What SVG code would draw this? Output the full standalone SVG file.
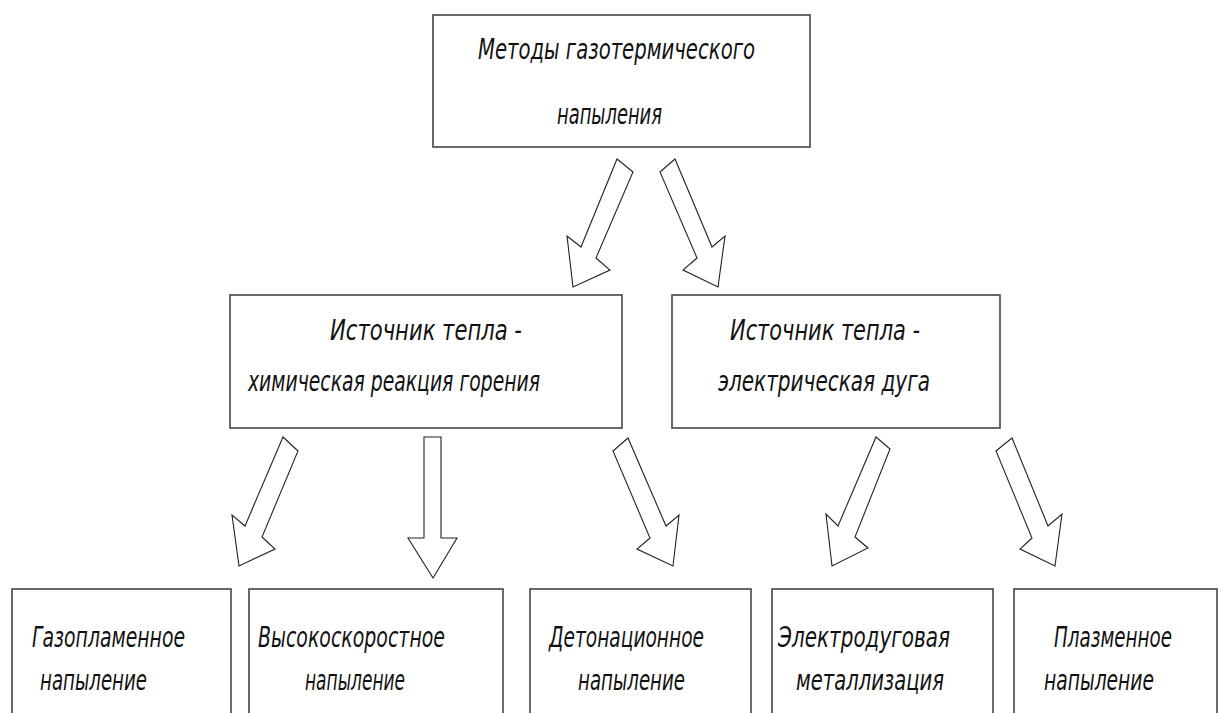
<svg xmlns="http://www.w3.org/2000/svg" width="1219" height="713" viewBox="0 0 1219 713">
<style>
.box{fill:#fff;stroke:#444;stroke-width:1.6}
.arr{fill:#fff;stroke:#222;stroke-width:1.1;stroke-linejoin:miter}
text{font-family:"DejaVu Sans","Liberation Sans",sans-serif;font-style:italic;font-size:29px;fill:#111}
</style>
<rect width="1219" height="713" fill="#fff"/>
<g id="n-root">
<rect class="box" x="433" y="15" width="377" height="132"/>
<text x="478" y="59" textLength="277" lengthAdjust="spacingAndGlyphs">Методы газотермического</text>
<text x="557" y="124" textLength="105" lengthAdjust="spacingAndGlyphs">напыления</text>
</g>
<g id="n-chem">
<rect class="box" x="230" y="295" width="392" height="133"/>
<text x="330" y="340" textLength="192" lengthAdjust="spacingAndGlyphs">Источник тепла -</text>
<text x="248" y="391" textLength="292" lengthAdjust="spacingAndGlyphs">химическая реакция горения</text>
</g>
<g id="n-arc">
<rect class="box" x="672" y="295" width="328" height="133"/>
<text x="730" y="340" textLength="190" lengthAdjust="spacingAndGlyphs">Источник тепла -</text>
<text x="718" y="391" textLength="212" lengthAdjust="spacingAndGlyphs">электрическая дуга</text>
</g>
<g id="n-gas">
<rect class="box" x="12" y="589" width="219" height="140"/>
<text x="32" y="647" textLength="153" lengthAdjust="spacingAndGlyphs">Газопламенное</text>
<text x="40" y="690" textLength="107" lengthAdjust="spacingAndGlyphs">напыление</text>
</g>
<g id="n-hvof">
<rect class="box" x="249" y="589" width="254" height="140"/>
<text x="258" y="647" textLength="187" lengthAdjust="spacingAndGlyphs">Высокоскоростное</text>
<text x="305" y="690" textLength="100" lengthAdjust="spacingAndGlyphs">напыление</text>
</g>
<g id="n-det">
<rect class="box" x="530" y="589" width="221" height="140"/>
<text x="549" y="647" textLength="155" lengthAdjust="spacingAndGlyphs">Детонационное</text>
<text x="578" y="690" textLength="107" lengthAdjust="spacingAndGlyphs">напыление</text>
</g>
<g id="n-metal">
<rect class="box" x="772" y="589" width="221" height="140"/>
<text x="778" y="647" textLength="172" lengthAdjust="spacingAndGlyphs">Электродуговая</text>
<text x="796" y="690" textLength="148" lengthAdjust="spacingAndGlyphs">металлизация</text>
</g>
<g id="n-plasma">
<rect class="box" x="1014" y="589" width="203" height="140"/>
<text x="1054" y="647" textLength="118" lengthAdjust="spacingAndGlyphs">Плазменное</text>
<text x="1044" y="690" textLength="110" lengthAdjust="spacingAndGlyphs">напыление</text>
</g>
<g id="connectors">
<polygon class="arr" points="617,159 633,172 596,258 610,270 573,287 567,236 581,247"/>
<polygon class="arr" points="675,159 660,172 697,258 683,270 718,287 725,236 712,247"/>
<polygon class="arr" points="283,437 298,451 262,537 275,549 239,566 232,515 245,526"/>
<polygon class="arr" points="424,437 441,437 441,538 457,538 433,578 408,538 424,538"/>
<polygon class="arr" points="628,438 613,451 650,538 637,549 673,566 679,515 666,526"/>
<polygon class="arr" points="876,437 890,449 855,537 868,548 832,566 826,514 838,526"/>
<polygon class="arr" points="1012,438 996,451 1032,538 1020,549 1055,566 1062,514 1048,526"/>
</g>
</svg>
